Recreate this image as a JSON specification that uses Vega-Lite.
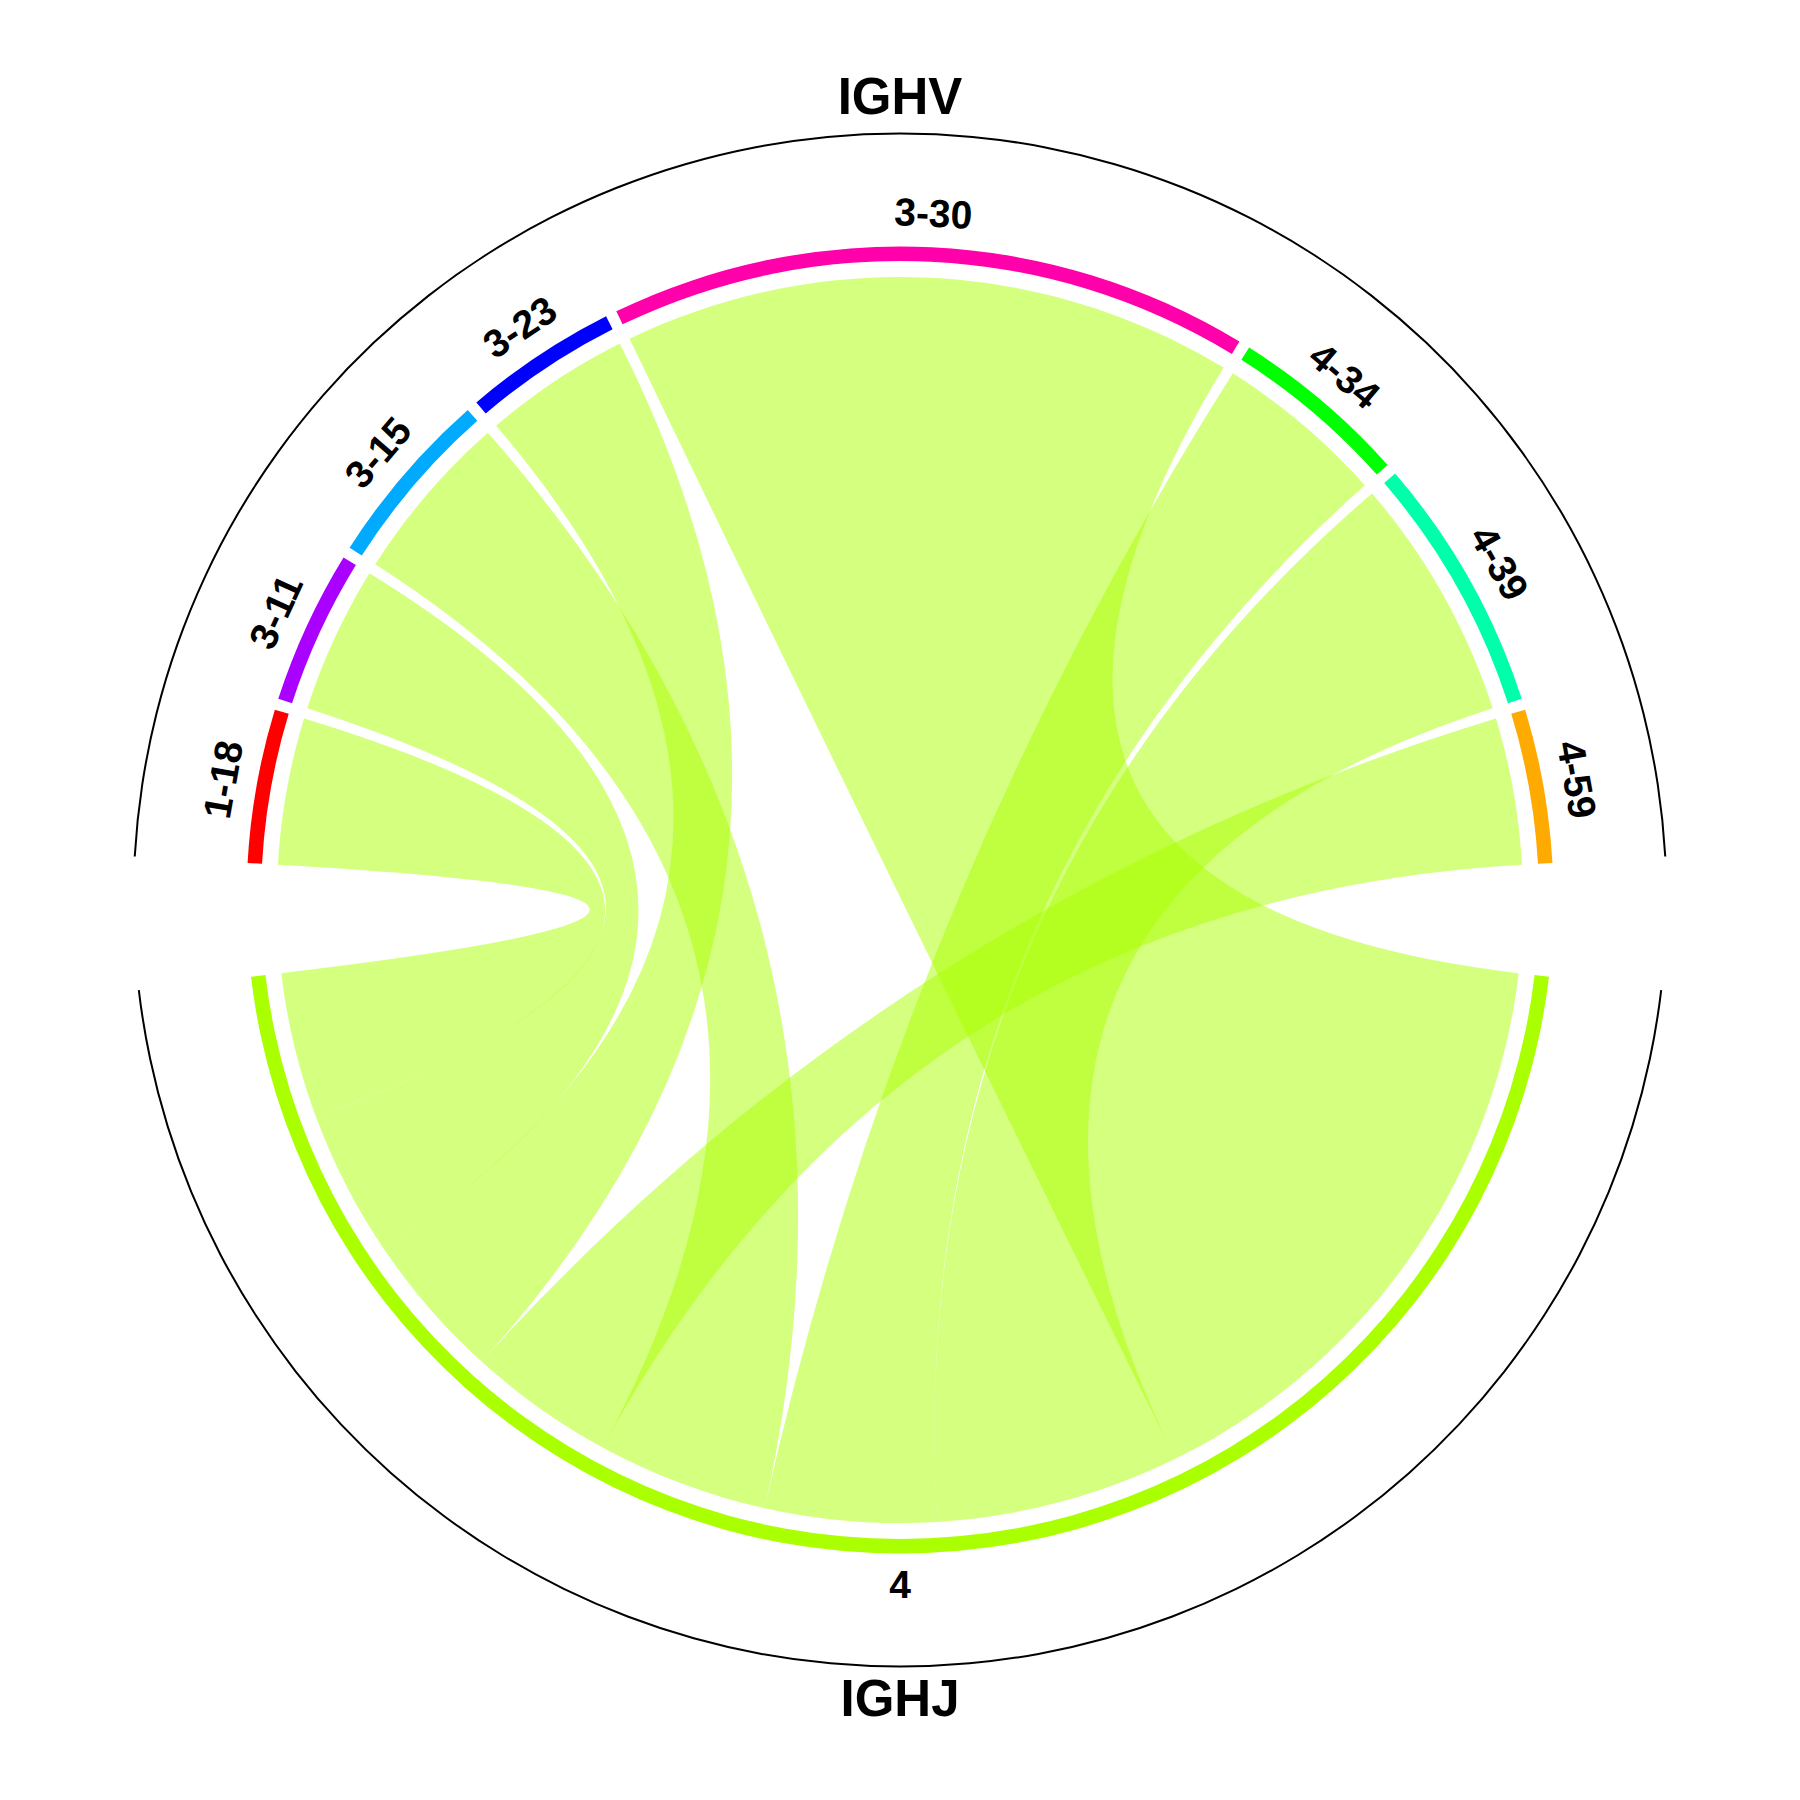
{
  "$schema": "https://vega.github.io/schema/vega-lite/v6.json",
  "width": 1800,
  "height": 1800,
  "autosize": {"type": "fit", "contains": "padding"},
  "padding": 0,
  "background": "white",
  "config": {"view": {"stroke": null}},
  "datasets": {
    "sectors": [
      {"gene": "1-18", "group": "IGHV", "value": 6},
      {"gene": "3-11", "group": "IGHV", "value": 6},
      {"gene": "3-15", "group": "IGHV", "value": 7},
      {"gene": "3-23", "group": "IGHV", "value": 6},
      {"gene": "3-30", "group": "IGHV", "value": 25},
      {"gene": "4-34", "group": "IGHV", "value": 7},
      {"gene": "4-39", "group": "IGHV", "value": 10},
      {"gene": "4-59", "group": "IGHV", "value": 6},
      {"gene": "4", "group": "IGHJ", "value": 73}
    ],
    "links": [
      {"from": "1-18", "to": "4", "value": 6},
      {"from": "3-11", "to": "4", "value": 6},
      {"from": "3-15", "to": "4", "value": 7},
      {"from": "3-23", "to": "4", "value": 6},
      {"from": "3-30", "to": "4", "value": 25},
      {"from": "4-34", "to": "4", "value": 7},
      {"from": "4-39", "to": "4", "value": 10},
      {"from": "4-59", "to": "4", "value": 6}
    ]
  },
  "layer": [
    {
      "data": {"name": "sectors"},
      "transform": [
        {"joinaggregate": [{"op": "sum", "field": "value", "as": "grand"}, {"op": "count", "as": "nAll"}]},
        {"joinaggregate": [{"op": "sum", "field": "value", "as": "gsum"}, {"op": "count", "as": "gn"}], "groupby": ["group"]},
        {"window": [{"op": "sum", "field": "value", "as": "cum"}, {"op": "row_number", "as": "idx"}], "groupby": ["group"], "sort": [{"field": "gene", "order": "ascending"}], "frame": [null, 0]},
        {"calculate": "(360 - 2*10 - (datum.nAll - 2)*1) / datum.grand", "as": "u"},
        {"calculate": "datum.group === 'IGHV' ? 0 : 180", "as": "center"},
        {"calculate": "datum.center - (datum.gsum*datum.u + (datum.gn-1)*1)/2 + (datum.cum - datum.value)*datum.u + (datum.idx-1)*1", "as": "s"},
        {"calculate": "datum.s + datum.value*datum.u", "as": "e"},
        {"aggregate": [{"op": "min", "field": "s", "as": "gs"}, {"op": "max", "field": "e", "as": "ge"}], "groupby": ["group"]},
        {"calculate": "datum.gs*PI/180", "as": "gsr"},
        {"calculate": "datum.ge*PI/180", "as": "ger"},
        {"calculate": "(datum.gs+datum.ge)/2*PI/180", "as": "gmr"}
      ],
      "layer": [
        {
          "mark": {"type": "arc", "radius": 767.5, "radius2": 765.5, "color": "black"},
          "encoding": {
            "theta": {"field": "gsr", "type": "quantitative", "scale": null, "stack": null},
            "theta2": {"field": "ger"}
          }
        },
        {
          "mark": {"type": "text", "radius": 801, "fontSize": 51, "fontWeight": "bold", "font": "Liberation Sans", "align": "center", "baseline": "middle", "color": "black"},
          "encoding": {
            "theta": {"field": "gmr", "type": "quantitative", "scale": null, "stack": null},
            "text": {"field": "group"}
          }
        }
      ]
    },
    {
      "data": {"name": "sectors"},
      "transform": [
        {"joinaggregate": [{"op": "sum", "field": "value", "as": "grand"}, {"op": "count", "as": "nAll"}]},
        {"joinaggregate": [{"op": "sum", "field": "value", "as": "gsum"}, {"op": "count", "as": "gn"}], "groupby": ["group"]},
        {"window": [{"op": "sum", "field": "value", "as": "cum"}, {"op": "row_number", "as": "idx"}], "groupby": ["group"], "sort": [{"field": "gene", "order": "ascending"}], "frame": [null, 0]},
        {"calculate": "(360 - 2*10 - (datum.nAll - 2)*1) / datum.grand", "as": "u"},
        {"calculate": "datum.group === 'IGHV' ? 0 : 180", "as": "center"},
        {"calculate": "datum.center - (datum.gsum*datum.u + (datum.gn-1)*1)/2 + (datum.cum - datum.value)*datum.u + (datum.idx-1)*1", "as": "s"},
        {"calculate": "datum.s + datum.value*datum.u", "as": "e"},
        {"calculate": "datum.s*PI/180", "as": "sr"},
        {"calculate": "datum.e*PI/180", "as": "er"},
        {"calculate": "(datum.s+datum.e)/2", "as": "mid"},
        {"calculate": "datum.mid*PI/180", "as": "midr"},
        {"calculate": "datum.mid > 90 && datum.mid < 270 ? datum.mid - 180 : datum.mid", "as": "rot"}
      ],
      "layer": [
        {
          "mark": {"type": "arc", "radius": 653.5, "radius2": 639},
          "encoding": {
            "theta": {"field": "sr", "type": "quantitative", "scale": null, "stack": null},
            "theta2": {"field": "er"},
            "color": {
              "field": "gene",
              "type": "nominal",
              "scale": {
                "domain": ["1-18", "3-11", "3-15", "3-23", "3-30", "4-34", "4-39", "4-59", "4"],
                "range": ["#FF0000", "#AA00FF", "#00AAFF", "#0000FF", "#FF00AA", "#00FF00", "#00FFAA", "#FFAA00", "#AAFF00"]
              },
              "legend": null
            }
          }
        },
        {
          "mark": {"type": "text", "radius": 686, "fontSize": 39, "fontWeight": "bold", "font": "Liberation Sans", "align": "center", "baseline": "middle", "color": "black"},
          "encoding": {
            "theta": {"field": "midr", "type": "quantitative", "scale": null, "stack": null},
            "angle": {"field": "rot", "type": "quantitative", "scale": null},
            "text": {"field": "gene"}
          }
        }
      ]
    },
    {
      "data": {"name": "links"},
      "transform": [
        {"joinaggregate": [{"op": "sum", "field": "value", "as": "total"}, {"op": "count", "as": "n"}]},
        {"window": [{"op": "sum", "field": "value", "as": "cumA"}, {"op": "row_number", "as": "idx"}], "sort": [{"field": "from", "order": "ascending"}], "frame": [null, 0]},
        {"window": [{"op": "sum", "field": "value", "as": "cumB"}], "sort": [{"field": "value", "order": "descending"}, {"field": "from", "order": "descending"}], "frame": [null, 0]},
        {"calculate": "(360 - 2*10 - (datum.n - 1)*1) / (2*datum.total)", "as": "u"},
        {"calculate": "-(datum.total*datum.u + (datum.n-1)*1)/2 + (datum.cumA - datum.value)*datum.u + (datum.idx-1)*1", "as": "a1"},
        {"calculate": "datum.a1 + datum.value*datum.u", "as": "a2"},
        {"calculate": "180 - datum.total*datum.u/2 + (datum.cumB - datum.value)*datum.u", "as": "b1"},
        {"calculate": "datum.b1 + datum.value*datum.u", "as": "b2"},
        {"calculate": "datum.a1*PI/180", "as": "t1"},
        {"calculate": "datum.a2*PI/180", "as": "t2"},
        {"calculate": "datum.b1*PI/180", "as": "t3"},
        {"calculate": "datum.b2*PI/180", "as": "t4"},
        {"calculate": "4/3*tan((datum.t2-datum.t1)/4)", "as": "ka"},
        {"calculate": "4/3*tan((datum.t4-datum.t3)/4)", "as": "kb"},
        {"calculate": "round(1e6*sin(datum.t1))/1e6", "as": "x1"},
        {"calculate": "round(-1e6*cos(datum.t1))/1e6", "as": "y1"},
        {"calculate": "round(1e6*(sin(datum.t1)+datum.ka*cos(datum.t1)))/1e6", "as": "x1c"},
        {"calculate": "round(1e6*(-cos(datum.t1)+datum.ka*sin(datum.t1)))/1e6", "as": "y1c"},
        {"calculate": "round(1e6*(sin(datum.t2)-datum.ka*cos(datum.t2)))/1e6", "as": "x2c"},
        {"calculate": "round(1e6*(-cos(datum.t2)-datum.ka*sin(datum.t2)))/1e6", "as": "y2c"},
        {"calculate": "round(1e6*sin(datum.t2))/1e6", "as": "x2"},
        {"calculate": "round(-1e6*cos(datum.t2))/1e6", "as": "y2"},
        {"calculate": "round(1e6*sin(datum.t3))/1e6", "as": "x3"},
        {"calculate": "round(-1e6*cos(datum.t3))/1e6", "as": "y3"},
        {"calculate": "round(1e6*(sin(datum.t3)+datum.kb*cos(datum.t3)))/1e6", "as": "x3c"},
        {"calculate": "round(1e6*(-cos(datum.t3)+datum.kb*sin(datum.t3)))/1e6", "as": "y3c"},
        {"calculate": "round(1e6*(sin(datum.t4)-datum.kb*cos(datum.t4)))/1e6", "as": "x4c"},
        {"calculate": "round(1e6*(-cos(datum.t4)-datum.kb*sin(datum.t4)))/1e6", "as": "y4c"},
        {"calculate": "round(1e6*sin(datum.t4))/1e6", "as": "x4"},
        {"calculate": "round(-1e6*cos(datum.t4))/1e6", "as": "y4"},
        {"calculate": "'M'+datum.x1+','+datum.y1+'C'+datum.x1c+','+datum.y1c+','+datum.x2c+','+datum.y2c+','+datum.x2+','+datum.y2+'Q0,0,'+datum.x3+','+datum.y3+'C'+datum.x3c+','+datum.y3c+','+datum.x4c+','+datum.y4c+','+datum.x4+','+datum.y4+'Q0,0,'+datum.x1+','+datum.y1+'Z'", "as": "path"}
      ],
      "mark": {"type": "point", "filled": true, "size": 1552516, "color": "#AAFF00", "opacity": 0.5, "strokeWidth": 0},
      "encoding": {
        "shape": {"field": "path", "type": "nominal", "scale": null}
      }
    }
  ]
}
